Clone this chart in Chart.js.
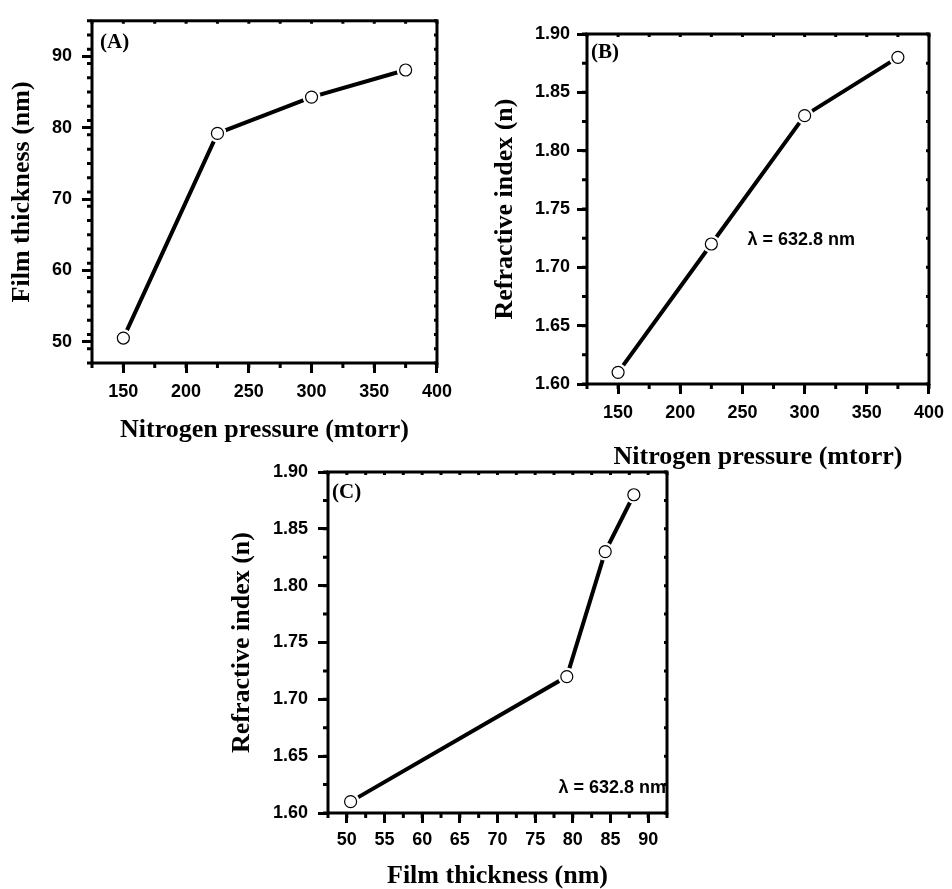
<!DOCTYPE html>
<html>
<head>
<meta charset="utf-8">
<script src="https://cdn.jsdelivr.net/npm/chart.js@4.4.1/dist/chart.umd.min.js"></script>
<style>
  body { margin: 0; background: #fff; width: 952px; height: 889px; position: relative; overflow: hidden; }
  canvas { position: absolute; }
</style>
</head>
<body>
<canvas id="chartA" width="460" height="460" style="left:0;top:0"></canvas>
<canvas id="chartB" width="472" height="475" style="left:480px;top:0"></canvas>
<canvas id="chartC" width="480" height="444" style="left:220px;top:445px"></canvas>
<script>
// data
const pressure = [150, 225, 300, 375]
const thickness = [50.5, 79.2, 84.3, 88.1]
const refIndex = [1.61, 1.72, 1.83, 1.88]

const pressureTicks = [150, 200, 250, 300, 350, 400]
const thicknessTicks = [50, 60, 70, 80, 90]
const thicknessXTicks = [50, 55, 60, 65, 70, 75, 80, 85, 90]
const indexTicks = [1.60, 1.65, 1.70, 1.75, 1.80, 1.85, 1.90]

Chart.defaults.color = '#000'
Chart.defaults.animation = false

const tickFont = { family: 'Liberation Sans', weight: 'bold', size: 18 }
const titleFont = { family: 'Liberation Serif', weight: 'bold', size: 26, lineHeight: 1 }

// frame, minor ticks and the text labels inside the plot
const decor = {
    id: 'decor',
    afterDraw(chart, args, o) {
        const ctx = chart.ctx
        const a = chart.chartArea
        const sx = chart.scales.x, sy = chart.scales.y
        ctx.save()
        ctx.strokeStyle = '#000'
        ctx.lineWidth = 3
        ctx.beginPath()
        let n = Math.round((sx.max - sx.min) / o.minorX)
        for (let i = 0; i <= n; i++) {
            const px = sx.getPixelForValue(sx.min + i * o.minorX)
            ctx.moveTo(px, a.bottom); ctx.lineTo(px, a.bottom + 5)
            ctx.moveTo(px, a.top); ctx.lineTo(px, a.top + 3)
        }
        n = Math.round((sy.max - sy.min) / o.minorY)
        for (let i = 0; i <= n; i++) {
            const py = sy.getPixelForValue(sy.min + i * o.minorY)
            ctx.moveTo(a.left, py); ctx.lineTo(a.left - 5, py)
            ctx.moveTo(a.right, py); ctx.lineTo(a.right - 3, py)
        }
        ctx.stroke()
        ctx.strokeRect(a.left, a.top, a.right - a.left, a.bottom - a.top)

        ctx.fillStyle = '#000'
        ctx.textBaseline = 'middle'
        o.labels.forEach(l => {
            ctx.font = l.font
            ctx.textAlign = l.align || 'left'
            let x = l.vx !== undefined ? sx.getPixelForValue(l.vx) : (l.fromRight ? a.right - l.dx : a.left + l.dx)
            let y = l.vy !== undefined ? sy.getPixelForValue(l.vy) : a.top + l.dy
            ctx.fillText(l.text, x, y)
        })
        ctx.restore()
    }
}

function makeChart(id, xs, ys, c) {
    const pts = xs.map((x, i) => ({ x, y: ys[i] }))
    return new Chart(document.getElementById(id), {
        type: 'line',
        data: {
            datasets: [{
                data: pts,
                showLine: false,
                pointRadius: 6,
                pointBackgroundColor: '#fff',
                pointBorderColor: '#000',
                pointBorderWidth: 1.2,
                order: 0
            }, {
                data: pts,
                borderColor: '#000',
                borderWidth: 4,
                pointRadius: 9,
                pointBackgroundColor: '#fff',
                pointBorderWidth: 0,
                order: 1
            }]
        },
        options: {
            responsive: false,
            layout: { padding: c.pad },
            plugins: {
                legend: { display: false },
                tooltip: { enabled: false },
                decor: { minorX: c.minorX, minorY: c.minorY, labels: c.labels }
            },
            scales: {
                x: {
                    type: 'linear',
                    min: c.xMin, max: c.xMax,
                    afterBuildTicks: s => { s.ticks = c.xTicks.map(v => ({ value: v })) },
                    afterFit: s => { s.height = c.xHeight },
                    grid: { drawOnChartArea: false, tickLength: 10, tickWidth: 3, tickColor: '#000' },
                    border: { display: false },
                    ticks: { font: tickFont, padding: c.xTickPad, maxRotation: 0, autoSkip: false },
                    title: { display: true, text: c.xTitle, font: titleFont, padding: { top: 0, bottom: c.xTitlePad } }
                },
                y: {
                    min: c.yMin, max: c.yMax,
                    afterBuildTicks: s => { s.ticks = c.yTicks.map(v => ({ value: v })) },
                    afterFit: s => { s.width = c.yWidth },
                    grid: { drawOnChartArea: false, tickLength: 10, tickWidth: 3, tickColor: '#000' },
                    border: { display: false },
                    ticks: { font: tickFont, padding: c.yTickPad, autoSkip: false, callback: c.yFmt || (v => v) },
                    title: { display: true, text: c.yTitle, font: titleFont, padding: { top: c.yTitlePad, bottom: 0 } }
                }
            }
        },
        plugins: [decor]
    })
}

const panelFont = 'bold 21px "Liberation Serif"'
const noteFont = 'bold 18px "Liberation Sans"'

makeChart('chartA', pressure, thickness, {
    xMin: 125, xMax: 400, yMin: 47, yMax: 95,
    xTicks: pressureTicks, yTicks: thicknessTicks,
    minorX: 25, minorY: 2,
    pad: { top: 15, right: 19, left: 0, bottom: 0 },
    yWidth: 92, xHeight: 97,
    xTickPad: 8, yTickPad: 10, xTitlePad: 17, yTitlePad: 9,
    xTitle: 'Nitrogen pressure (mtorr)', yTitle: 'Film thickness (nm)',
    labels: [{ text: '(A)', font: panelFont, dx: 8, dy: 22 }]
})

makeChart('chartB', pressure, refIndex, {
    xMin: 125, xMax: 400, yMin: 1.60, yMax: 1.90,
    xTicks: pressureTicks, yTicks: indexTicks,
    minorX: 25, minorY: 0.025,
    pad: { top: 34, right: 17, left: 0, bottom: 0 },
    yWidth: 107, xHeight: 91,
    xTickPad: 8, yTickPad: 7, xTitlePad: 5, yTitlePad: 12,
    yFmt: v => v.toFixed(2),
    xTitle: 'Nitrogen pressure (mtorr)', yTitle: 'Refractive index (n)',
    labels: [
        { text: '(B)', font: panelFont, dx: 4, dy: 19 },
        { text: 'λ = 632.8 nm', font: noteFont, vx: 254, vy: 1.723 }
    ]
})

makeChart('chartC', thickness, refIndex, {
    xMin: 47.5, xMax: 92.5, yMin: 1.60, yMax: 1.90,
    xTicks: thicknessXTicks, yTicks: indexTicks,
    minorX: 2.5, minorY: 0.025,
    pad: { top: 27, right: 33, left: 0, bottom: 0 },
    yWidth: 108, xHeight: 76,
    xTickPad: 6, yTickPad: 10, xTitlePad: 0, yTitlePad: 9,
    yFmt: v => v.toFixed(2),
    xTitle: 'Film thickness (nm)', yTitle: 'Refractive index (n)',
    labels: [
        { text: '(C)', font: panelFont, dx: 4, dy: 21 },
        { text: 'λ = 632.8 nm', font: noteFont, fromRight: true, dx: 1, vy: 1.622, align: 'right' }
    ]
})
</script>
</body>
</html>
